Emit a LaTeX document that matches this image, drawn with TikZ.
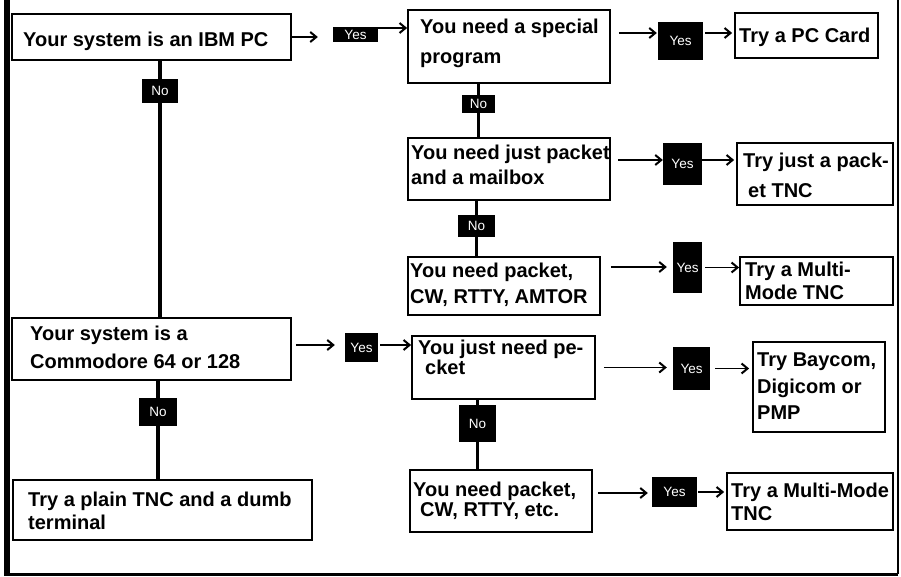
\documentclass[tikz,border=0pt]{standalone}
\usepackage{fontspec}
\setmainfont{Liberation Sans}
\usetikzlibrary{fit,arrows.meta,calc}
\begin{document}
\begin{tikzpicture}[x=1pt,y=-1pt,
  box/.style={draw=black, line width=1.8pt, inner sep=0pt},
  lab/.style={fill=black, text=white, inner sep=0pt, font=\fontsize{13.5}{13.5}\selectfont},
  arr/.style={line width=1.8pt, -{Straight Barb[length=6pt,width=10pt,line width=2pt]}},
  vline/.style={line width=3.2pt},
  frame/.style={line width=2pt}]
\useasboundingbox (0,0) rectangle (901,577);
\tikzset{txt/.style={inner sep=0pt, anchor=north west, align=left, font=\fontsize{20}{#1}\selectfont\bfseries}}
% outer frame
\coordinate (fTL) at (7,0);
\coordinate (fBL) at (7,574);
\coordinate (fBR) at (898,574);
\coordinate (fTR) at (898,0);
\draw[line width=6pt] (fTL) -- (fBL);
\draw[line width=3pt] (4,574) -- (fBR);
\draw[frame] (fTR) -- (fBR);
% boxes
\node[box, fit={(12,14) (291,60)}] (b1) {};
\node[box, fit={(408,10) (610,83)}] (b2) {};
\node[box, fit={(735,13) (878,58)}] (b3) {};
\node[box, fit={(408,138) (610,200)}] (b4) {};
\node[box, fit={(737,143) (893,205)}] (b5) {};
\node[box, fit={(408,257) (600,315)}] (b6) {};
\node[box, fit={(740,257) (893,305)}] (b7) {};
\node[box, fit={(12,318) (291,380)}] (b8) {};
\node[box, fit={(412,336) (595,399)}] (b9) {};
\node[box, fit={(753,342) (885,432)}] (b10) {};
\node[box, fit={(410,470) (592,532)}] (b11) {};
\node[box, fit={(727,473) (893,530)}] (b12) {};
\node[box, fit={(13,480) (312,540)}] (b13) {};
% texts
\node[txt=24] (t1) at (23,31.5) {Your system is an IBM PC};
\node[txt=30] (t2) at (420,19) {You need a special\\program};
\node[txt=24] (t3) at (739,27.5) {Try a PC Card};
\node[txt=25] (t4) at (411,145) {You need just packet\\and a mailbox};
\node[txt=30] (t5) at (743,153) {Try just a pack-\\\hspace*{5pt}et TNC};
\node[txt=26] (t6) at (410,263) {You need packet,\\CW, RTTY, AMTOR};
\node[txt=23] (t7) at (745,262) {Try a Multi-\\Mode TNC};
\node[txt=28] (t8) at (30,326) {Your system is a\\Commodore 64 or 128};
\node[txt=20] (t9) at (418,340) {You just need pe-\\\hspace*{7pt}cket};
\node[txt=26.5] (t10) at (757,353) {Try Baycom,\\Digicom or\\PMP};
\node[txt=20] (t11) at (413,482) {You need packet,\\\hspace*{7pt}CW, RTTY, etc.};
\node[txt=23] (t12) at (731,483) {Try a Multi-Mode\\TNC};
\node[txt=23] (t13) at (28,492) {Try a plain TNC and a dumb\\terminal};
% yes / no labels
\node[lab, minimum width=45, minimum height=15] (y1) at (355.5,34.5) {Yes};
\node[lab, minimum width=36, minimum height=24] (n1) at (160,91) {No};
\node[lab, minimum width=45, minimum height=38] (y2) at (680.5,41) {Yes};
\node[lab, minimum width=33, minimum height=18] (n2) at (478.5,104) {No};
\node[lab, minimum width=39, minimum height=42] (y3) at (682.5,164) {Yes};
\node[lab, minimum width=37, minimum height=22] (n3) at (476.5,226) {No};
\node[lab, minimum width=29, minimum height=51] (y4) at (687.5,267.5) {Yes};
\node[lab, minimum width=33, minimum height=29] (y5) at (361.5,347.5) {Yes};
\node[lab, minimum width=38, minimum height=28] (n4) at (158,412) {No};
\node[lab, minimum width=37, minimum height=43] (y6) at (691.5,368.5) {Yes};
\node[lab, minimum width=37, minimum height=37] (n5) at (477.5,423.5) {No};
\node[lab, minimum width=45, minimum height=30] (y7) at (674.5,492) {Yes};
% vertical connectors
\draw[vline] (n1.north) -- (n1.north |- b1.south);
\draw[vline] (n1.south) -- (n1.south |- b8.north);
\draw[vline] (n2.north) -- (n2.north |- b2.south);
\draw[vline] (n2.south) -- (n2.south |- b4.north);
\draw[vline] (n3.north) -- (n3.north |- b4.south);
\draw[vline] (n3.south) -- (n3.south |- b6.north);
\draw[vline] (n4.north) -- (n4.north |- b8.south);
\draw[vline] (n4.south) -- (n4.south |- b13.north);
\draw[vline] (n5.north) -- (n5.north |- b9.south);
\draw[vline] (n5.south) -- (n5.south |- b11.north);
% horizontal arrows
\draw[arr, shorten >=15pt] (b1.east) -- (b1.east -| y1.west);
\draw[arr] ([yshift=6.5pt]y1.east) -- ([yshift=6.5pt]y1.east -| b2.west);
\draw[arr, shorten <=8pt, shorten >=1pt] ([yshift=13.5pt]b2.east) -- ([yshift=13.5pt]b2.east -| y2.west);
\draw[arr, shorten <=2pt, shorten >=2pt] ([yshift=8pt]y2.east) -- ([yshift=8pt]y2.east -| b3.west);
\draw[arr, shorten <=7pt] ([yshift=9pt]b4.east) -- ([yshift=9pt]b4.east -| y3.west);
\draw[arr, shorten >=2pt] ([yshift=4pt]y3.east) -- ([yshift=4pt]y3.east -| b5.west);
\draw[arr, shorten <=10pt, shorten >=6pt] ([yshift=19pt]b6.east) -- ([yshift=19pt]b6.east -| y4.west);
\draw[arr, shorten <=3pt] (y4.east) -- (y4.east -| b7.west);
\draw[arr, shorten <=4pt, shorten >=10pt] ([yshift=4pt]b8.east) -- ([yshift=4pt]b8.east -| y5.west);
\draw[arr, shorten <=2pt] ([yshift=2.5pt]y5.east) -- ([yshift=2.5pt]y5.east -| b9.west);
\draw[arr, shorten <=8pt, shorten >=6pt] (b9.east) -- (b9.east -| y6.west);
\draw[arr, shorten <=5pt, shorten >=3pt] (y6.east) -- (y6.east -| b10.west);
\draw[arr, shorten <=5pt, shorten >=4pt] ([yshift=8pt]b11.east) -- ([yshift=8pt]b11.east -| y7.west);
\draw[arr, shorten <=1pt, shorten >=2pt] (y7.east) -- (y7.east -| b12.west);
\end{tikzpicture}
\end{document}
